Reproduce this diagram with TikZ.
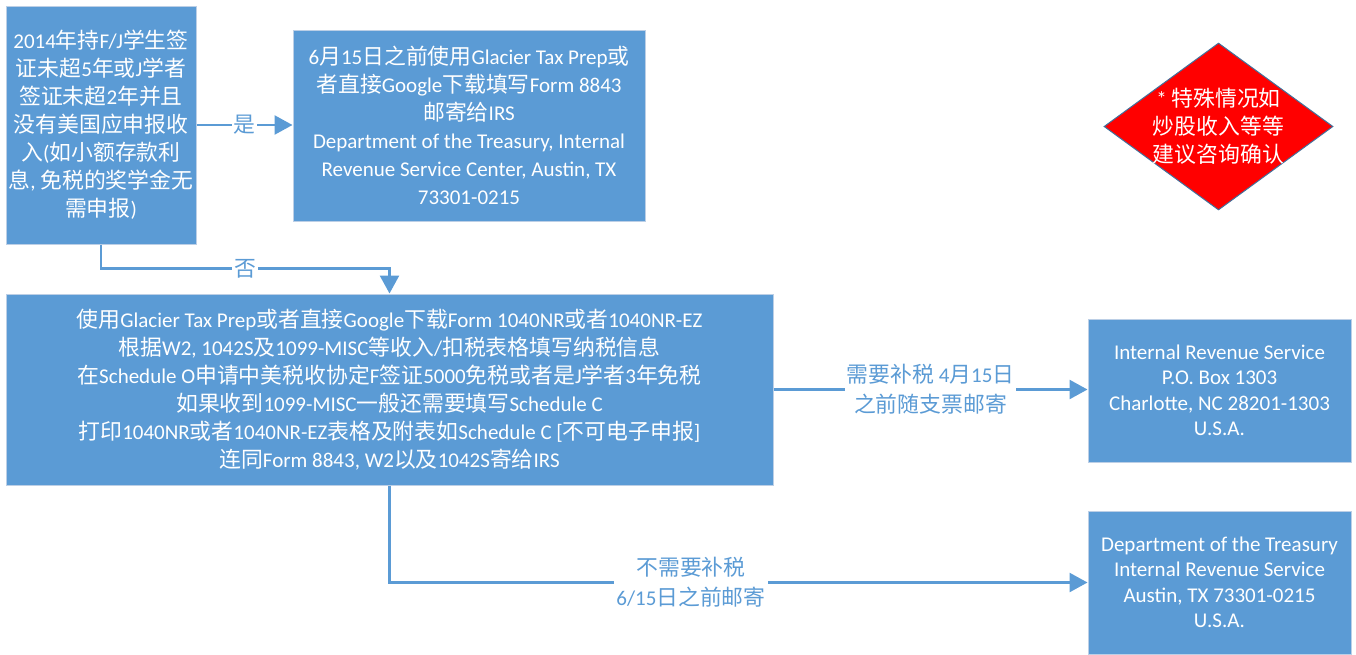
\documentclass[tikz,border=0pt]{standalone}
\usepackage{fontspec}
\usepackage{tikz}
\usetikzlibrary{shapes.geometric, arrows.meta, positioning}

\setmainfont{Carlito}
\newfontfamily\cjkfont[Scale=1.04]{Noto Sans CJK SC}
\XeTeXinterchartokenstate=1
\newXeTeXintercharclass\cjkclass
\newcount\cjkcode
\cjkcode="4E00
\loop
  \XeTeXcharclass\cjkcode=\cjkclass
  \advance\cjkcode by 1
\ifnum\cjkcode<"A000 \repeat
\XeTeXinterchartoks 0 \cjkclass = {\cjkfont}
\XeTeXinterchartoks 4095 \cjkclass = {\cjkfont}
\XeTeXinterchartoks \cjkclass 0 = {\rmfamily}
\XeTeXinterchartoks \cjkclass 4095 = {\rmfamily}

\definecolor{boxblue}{HTML}{5B9BD5}
\definecolor{boxedge}{HTML}{BCCFE6}
\definecolor{warnedge}{HTML}{41719C}

\begin{document}
\begin{tikzpicture}[x=1pt, y=-1pt,
  box/.style={rectangle, fill=boxblue, draw=boxedge, line width=1pt, text=white, align=center, inner sep=0pt, font=\fontsize{21}{28}\selectfont},
  addrbox/.style={box, font=\fontsize{21}{25.5}\selectfont},
  flow/.style={draw=boxblue, line width=2.5pt, -{Triangle[length=18pt, width=19pt]}},
  cond/.style={fill=white, text=boxblue, align=center, inner sep=2pt, font=\fontsize{21}{30}\selectfont}]
\useasboundingbox (0,0) rectangle (1356,654);

\node[box, minimum width=190pt, minimum height=238pt] (visa) at (101,125) {2014年持F/J学生签\\证未超5年或J学者\\签证未超2年并且\\没有美国应申报收\\入(如小额存款利\\息, 免税的奖学金无\\需申报)};
\node[box, minimum width=352pt, minimum height=191pt] (early) at (469,125.5) {6月15日之前使用Glacier Tax Prep或\\者直接Google下载填写Form 8843\\邮寄给IRS\\Department of the Treasury, Internal\\Revenue Service Center, Austin, TX\\73301-0215};
\node[diamond, fill=red, draw=warnedge, line width=1pt, minimum width=229pt, minimum height=167pt, inner sep=0pt] (special) at (1218.5,126.5) {};
\node[text=white, align=center, font=\fontsize{21}{28}\selectfont] (specialtext) at (special) {* 特殊情况如\\炒股收入等等\\建议咨询确认};
\node[box, minimum width=767pt, minimum height=191pt] (forms) at (389.5,389.5) {使用Glacier Tax Prep或者直接Google下载Form 1040NR或者1040NR-EZ\\根据W2, 1042S及1099-MISC等收入/扣税表格填写纳税信息\\在Schedule O申请中美税收协定F签证5000免税或者是J学者3年免税\\如果收到1099-MISC一般还需要填写Schedule C\\打印1040NR或者1040NR-EZ表格及附表如Schedule C [不可电子申报]\\连同Form 8843, W2以及1042S寄给IRS};
\node[addrbox, minimum width=263pt, minimum height=143pt] (charlotte) at (1219.5,390.5) {Internal Revenue Service\\P.O. Box 1303\\Charlotte, NC 28201-1303\\U.S.A.};
\node[addrbox, minimum width=263pt, minimum height=143pt] (austin) at (1219.5,582.5) {Department of the Treasury\\Internal Revenue Service\\Austin, TX 73301-0215\\U.S.A.};

\draw[flow] (visa.east) -- (visa.east -| early.west) node[cond, midway] {是};
\draw[flow] (visa.south) -- ++(0,24) -| (forms.north) node[cond, pos=0.25] {否};
\draw[flow] (forms.east) -- (forms.east -| charlotte.west) node[cond, midway] {需要补税 4月15日\\之前随支票邮寄};
\draw[flow] (forms.south) |- (austin.west) node[cond, pos=0.716] {不需要补税\\6/15日之前邮寄};
\end{tikzpicture}
\end{document}
